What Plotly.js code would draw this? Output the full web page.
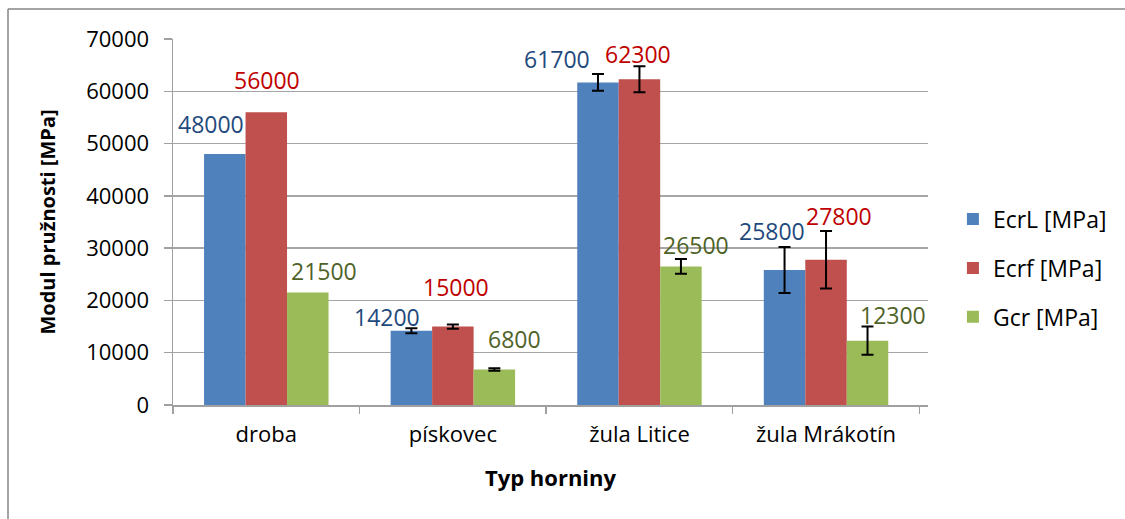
<!DOCTYPE html>
<html>
<head>
<meta charset="utf-8">
<script src="https://cdn.plot.ly/plotly-3.0.1.min.js"></script>
<style>html,body{margin:0;padding:0;background:#fff;}#chart{width:1125px;height:519px;}</style>
</head>
<body>
<div id="chart"></div>
<script>
// ---- data ----
const categories = ["droba", "pískovec", "žula Litice", "žula Mrákotín"];
const seriesNames = ["EcrL [MPa]", "Ecrf [MPa]", "Gcr [MPa]"];
const ecrL = [48000, 14200, 61700, 25800];
const ecrf = [56000, 15000, 62300, 27800];
const gcr  = [21500, 6800, 26500, 12300];
// NaN = no error bar shown for that point
const ecrLErr = [NaN, 500, 1600, 4400];
const ecrfErr = [NaN, 400, 2500, 5500];
const gcrErr  = [NaN, 250, 1400, 2700];

// ---- style ----
const barColors = ["#4F81BD", "#C0504D", "#9BBB59"];
const labelColors = ["#1F497D", "#C00000", "#4F6228"];
const FONT = "Open Sans, Liberation Sans, sans-serif";
// manual label nudges (px) [dx, dy above bar top], as placed in the original
const labelNudge = [
  [[-13, 30], [-24, 14], [-40, 23], [-12, 39]],
  [[1, 32], [3, 40], [-1, 25], [13, 44]],
  [[16, 22], [20, 30], [15, 21], [25, 26]]
];

const W = 1125, H = 519;
const margin = {l: 173, r: 197, t: 39, b: 114, pad: 0};
const bargap = 0.333;
const plotW = W - margin.l - margin.r;
const plotH = H - margin.t - margin.b;
const catW = plotW / categories.length;
const barW = catW * (1 - bargap) / 3;

const values = [ecrL, ecrf, gcr];
const errs = [ecrLErr, ecrfErr, gcrErr];

const traces = values.map((vals, i) => ({
  type: "bar",
  name: seriesNames[i],
  x: categories,
  y: vals,
  legendgroup: "g" + i,
  marker: {color: barColors[i], line: {width: 0}},
  error_y: {type: "data", array: errs[i], visible: true, color: "#000", thickness: 2, width: 6},
  hoverinfo: "skip"
}));

const annotations = [];
values.forEach((vals, i) => {
  vals.forEach((v, j) => {
    annotations.push({
      x: categories[j], y: v, xref: "x", yref: "y",
      text: String(v), showarrow: false,
      xanchor: "center", yanchor: "middle",
      xshift: (i - 1) * barW + labelNudge[i][j][0],
      yshift: labelNudge[i][j][1],
      font: {family: FONT, size: 23, color: labelColors[i]}
    });
  });
});

const layout = {
  width: W, height: H,
  margin: margin,
  paper_bgcolor: "#fff",
  plot_bgcolor: "#fff",
  barmode: "group",
  bargap: bargap,
  bargroupgap: 0,
  font: {family: FONT, size: 20, color: "#000"},
  showlegend: true,
  legend: {
    x: 1.033, xanchor: "left", y: 0.374, yanchor: "middle",
    font: {family: FONT, size: 23, color: "#000"},
    tracegroupgap: 16, bgcolor: "rgba(0,0,0,0)",
    itemclick: false
  },
  xaxis: {
    type: "category",
    showline: true, linecolor: "#A0A0A0", linewidth: 1.5,
    ticks: "outside", tickson: "boundaries", ticklen: 7, tickcolor: "#A0A0A0", tickwidth: 1.5,
    ticklabelstandoff: 9,
    showgrid: false, zeroline: false,
    tickfont: {family: FONT, size: 22, color: "#000"},
    title: {text: "<b>Typ horniny</b>", font: {family: FONT, size: 22, color: "#000"}, standoff: 23}
  },
  yaxis: {
    range: [0, 70000], dtick: 10000, tick0: 0,
    showline: true, linecolor: "#A0A0A0", linewidth: 1.5,
    ticks: "outside", ticklen: 8, tickcolor: "#A0A0A0", tickwidth: 1.5,
    ticklabelstandoff: 10,
    showgrid: true, gridcolor: "#A6A6A6", gridwidth: 1.5,
    zeroline: false,
    tickformat: "d",
    tickfont: {family: FONT, size: 22, color: "#000"},
    title: {text: "<b>Modul pružnosti [MPa]</b>", font: {family: FONT, size: 20, color: "#000"}, standoff: 25}
  },
  annotations: annotations,
  shapes: [
    {type: "line", xref: "paper", yref: "paper", x0: -165/plotW, x1: (W - margin.l)/plotW, y0: (plotH + margin.t - 9)/plotH, y1: (plotH + margin.t - 9)/plotH, line: {color: "#868686", width: 1.5}},
    {type: "line", xref: "paper", yref: "paper", x0: -165/plotW, x1: -165/plotW, y0: (plotH + margin.t - 9)/plotH, y1: -(margin.b)/plotH, line: {color: "#868686", width: 1.5}}
  ]
};

Plotly.newPlot("chart", traces, layout, {staticPlot: true, displayModeBar: false});
</script>
</body>
</html>
